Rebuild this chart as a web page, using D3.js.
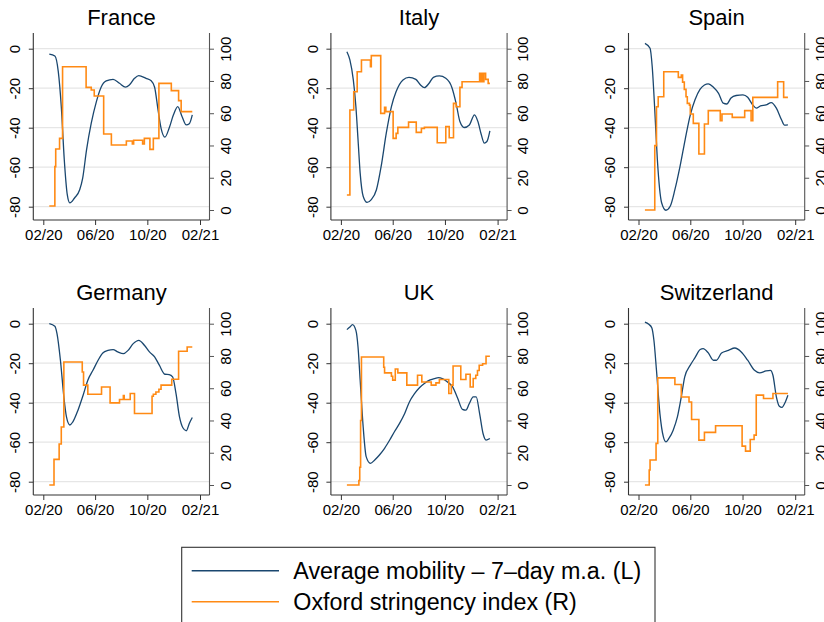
<!DOCTYPE html>
<html>
<head>
<meta charset="utf-8">
<script src="https://cdn.jsdelivr.net/npm/d3@7"></script>
<style>
  body { margin: 0; background: #fff; }
  text { font-family: "Liberation Sans", Arial, Helvetica, sans-serif; fill: #000; }
</style>
</head>
<body>
<div id="chart"></div>
<script>
// ---- data ----
var countries = ["France", "Italy", "Spain", "Germany", "UK", "Switzerland"];

var xTicks = ["2020-02-01", "2020-06-01", "2020-10-01", "2021-02-01"];
var xTickLabels = ["02/20", "06/20", "10/20", "02/21"];
var leftTicks = [-80, -60, -40, -20, 0];
var rightTicks = [0, 20, 40, 60, 80, 100];
var legendLabels = ["Average mobility \u2013 7\u2013day m.a. (L)", "Oxford stringency index (R)"];

// average mobility, 7-day moving average (left axis)
var franceMob = [["2020-02-15",-2.7],["2020-02-28",-3.7],["2020-03-07",-11.6],["2020-03-14",-29.3],["2020-03-21",-56.2],["2020-03-28",-73.9],["2020-04-03",-78.1],["2020-04-14",-75.6],["2020-04-26",-71.4],["2020-05-03",-65.5],["2020-05-12",-51.2],["2020-05-23",-37.7],["2020-06-04",-26.8],["2020-06-15",-19.5],["2020-06-27",-16.3],["2020-07-13",-15.5],["2020-07-28",-17.5],["2020-08-11",-19.5],["2020-08-20",-18.4],["2020-09-01",-15],["2020-09-11",-13.6],["2020-09-28",-15],["2020-10-10",-16.2],["2020-10-18",-19.5],["2020-10-26",-31],["2020-11-02",-40.2],["2020-11-11",-44.8],["2020-11-21",-40.2],["2020-12-01",-33.5],["2020-12-11",-29.3],["2020-12-21",-34.3],["2020-12-31",-38.6],["2021-01-07",-38],["2021-01-14",-33.5]];
var italyMob = [["2020-02-15",-1.5],["2020-02-22",-5.7],["2020-03-01",-15.8],["2020-03-07",-29.3],["2020-03-12",-46],["2020-03-17",-63],["2020-03-24",-74.7],["2020-04-02",-77.8],["2020-04-12",-76.4],["2020-04-24",-71.4],["2020-05-05",-59.6],["2020-05-17",-42.8],["2020-05-29",-29.3],["2020-06-09",-21.7],["2020-06-25",-15.8],["2020-07-09",-14.5],["2020-07-25",-15.5],["2020-08-05",-18.4],["2020-08-14",-19.7],["2020-08-25",-17.5],["2020-09-04",-14.5],["2020-09-18",-13.8],["2020-10-03",-15],["2020-10-17",-19.5],["2020-10-27",-27.6],["2020-11-05",-36.9],["2020-11-15",-39.9],["2020-11-27",-38.6],["2020-12-09",-33.5],["2020-12-17",-36.9],["2020-12-25",-43.6],["2021-01-01",-47.8],["2021-01-07",-47],["2021-01-14",-41.6]];
var spainMob = [["2020-02-16",2.7],["2020-02-28",0.2],["2020-03-04",-9],["2020-03-10",-31],["2020-03-16",-56],["2020-03-26",-78],["2020-04-05",-81.8],["2020-04-15",-79.8],["2020-04-26",-71.4],["2020-05-08",-59.6],["2020-05-20",-46],["2020-06-01",-33.5],["2020-06-12",-25.9],["2020-06-24",-20.5],["2020-07-04",-18.4],["2020-07-13",-17.8],["2020-07-25",-19.5],["2020-08-06",-22.6],["2020-08-17",-27.6],["2020-08-25",-28],["2020-09-04",-25],["2020-09-16",-23.7],["2020-10-02",-23.4],["2020-10-13",-24.6],["2020-10-25",-28.5],["2020-11-02",-30.1],["2020-11-12",-29],["2020-11-25",-28.5],["2020-12-07",-27.3],["2020-12-19",-30.1],["2020-12-31",-36],["2021-01-07",-38.7],["2021-01-15",-38.6]];
var germanyMob = [["2020-02-15",0],["2020-02-28",-1.3],["2020-03-04",-5],["2020-03-12",-18.5],["2020-03-20",-37],["2020-03-26",-47.1],["2020-04-03",-51.3],["2020-04-10",-49.7],["2020-04-22",-43.8],["2020-05-04",-36.2],["2020-05-15",-28.6],["2020-05-27",-23.6],["2020-06-08",-18.5],["2020-06-19",-14.8],["2020-07-01",-13.5],["2020-07-13",-13.1],["2020-07-24",-14.3],["2020-08-06",-15.2],["2020-08-17",-13.5],["2020-08-29",-10.1],["2020-09-11",-8.4],["2020-09-24",-10.9],["2020-10-06",-14.3],["2020-10-18",-16.8],["2020-10-29",-21],["2020-11-11",-25.6],["2020-11-21",-25.8],["2020-11-29",-26.9],["2020-12-07",-35.4],["2020-12-15",-47.1],["2020-12-23",-52.7],["2020-12-31",-54.2],["2021-01-07",-50.5],["2021-01-14",-47.5]];
var ukMob = [["2020-02-15",-3],["2020-02-22",-1.7],["2020-02-28",-0.5],["2020-03-07",-3.4],["2020-03-12",-11.8],["2020-03-17",-28.6],["2020-03-24",-52.2],["2020-03-31",-67.3],["2020-04-10",-70.7],["2020-04-20",-69],["2020-05-01",-66.5],["2020-05-13",-63.1],["2020-05-25",-58.9],["2020-06-05",-54.7],["2020-06-17",-50.5],["2020-06-29",-45.5],["2020-07-10",-39.6],["2020-07-22",-35.4],["2020-08-03",-32.3],["2020-08-14",-30.3],["2020-08-26",-28.6],["2020-09-06",-27.8],["2020-09-16",-27.3],["2020-09-25",-27.8],["2020-10-07",-29.5],["2020-10-19",-32],["2020-10-31",-37.9],["2020-11-11",-43.4],["2020-11-19",-43.8],["2020-11-27",-40.4],["2020-12-06",-37],["2020-12-13",-37],["2020-12-21",-45.5],["2020-12-29",-55.6],["2021-01-05",-58.9],["2021-01-14",-58.1]];
var swissMob = [["2020-02-16",0.8],["2020-02-25",-0.3],["2020-03-03",-2],["2020-03-08",-8.4],["2020-03-14",-23.6],["2020-03-22",-45.5],["2020-03-30",-57.2],["2020-04-05",-59.8],["2020-04-12",-58.1],["2020-04-22",-53.9],["2020-05-02",-47.1],["2020-05-11",-37],["2020-05-19",-26.9],["2020-06-01",-21],["2020-06-12",-17.2],["2020-06-24",-13.1],["2020-07-01",-12.6],["2020-07-13",-14.8],["2020-07-25",-18.5],["2020-08-01",-18.5],["2020-08-13",-14.8],["2020-08-29",-13.5],["2020-09-13",-12.3],["2020-09-28",-14.3],["2020-10-13",-18.5],["2020-10-29",-23.6],["2020-11-10",-24.9],["2020-11-25",-23.9],["2020-12-05",-23.6],["2020-12-11",-26.1],["2020-12-19",-37],["2020-12-26",-41.8],["2021-01-01",-42.4],["2021-01-09",-39.6],["2021-01-15",-36.2]];

// Oxford stringency index (right axis), value holds from each date on
var franceStr = [["2020-02-15",2.5],["2020-02-28",26.9],["2020-03-01",37.8],["2020-03-10",44.4],["2020-03-17",88.8],["2020-05-11",76],["2020-05-23",74.4],["2020-05-30",70.7],["2020-06-21",47.1],["2020-07-09",40.3],["2020-08-13",42.8],["2020-08-27",40.9],["2020-08-30",43.2],["2020-09-20",40.9],["2020-09-24",44.4],["2020-10-07",37.6],["2020-10-15",44.4],["2020-10-28",78.5],["2020-11-26",74],["2020-12-13",67.8],["2020-12-19",61],["2021-01-14",61]];
var italyStr = [["2020-02-15",9.3],["2020-02-22",62],["2020-03-02",73.3],["2020-03-10",85.7],["2020-03-20",93],["2020-04-10",88.8],["2020-04-12",95.7],["2020-05-04",59.9],["2020-05-13",63.6],["2020-05-16",61],["2020-06-02",44.4],["2020-06-09",47.5],["2020-06-13",51.2],["2020-07-08",54.5],["2020-07-26",48.1],["2020-08-07",50.6],["2020-08-14",51.2],["2020-09-13",41.7],["2020-10-03",51.7],["2020-10-11",44.8],["2020-10-21",66.1],["2020-10-27",64],["2020-11-05",76],["2020-11-10",79.5],["2020-12-21",84.7],["2020-12-24",79.5],["2020-12-25",84.7],["2020-12-28",79.5],["2020-12-31",84.7],["2021-01-04",81],["2021-01-10",78.5],["2021-01-14",78.5]];
var spainStr = [["2020-02-16",0],["2020-03-10",39.9],["2020-03-14",64],["2020-03-18",70.2],["2020-03-31",85.7],["2020-05-04",82.2],["2020-05-11",83.7],["2020-05-14",79.3],["2020-05-18",74.8],["2020-05-22",70.2],["2020-05-25",66.1],["2020-05-30",65],["2020-06-01",59.5],["2020-06-08",53.7],["2020-06-21",34.7],["2020-07-04",53.3],["2020-07-13",61.6],["2020-08-10",55.4],["2020-08-14",59.5],["2020-09-07",57.4],["2020-10-06",61.6],["2020-10-21",55.4],["2020-10-25",69.8],["2020-12-22",79.5],["2021-01-05",69.8],["2021-01-15",69.8]];
var germanyStr = [["2020-02-15",0],["2020-02-26",15.9],["2020-03-09",25.4],["2020-03-14",36],["2020-03-20",76.3],["2020-05-02",70.1],["2020-05-05",61.9],["2020-05-15",56.3],["2020-06-16",60.8],["2020-07-06",50.9],["2020-07-28",53],["2020-08-06",55.5],["2020-08-08",53],["2020-08-22",56.7],["2020-09-01",44.3],["2020-10-12",55],["2020-10-15",56.3],["2020-10-21",57.7],["2020-10-28",59.4],["2020-11-02",61.9],["2020-11-27",65.6],["2020-12-13",82.9],["2021-01-02",85.6],["2021-01-14",85.6]];
var ukStr = [["2020-02-15",0],["2020-03-14",2.8],["2020-03-16",11],["2020-03-18",40],["2020-03-20",79.4],["2020-05-11",73],["2020-05-13",69.5],["2020-05-29",67.4],["2020-06-01",65],["2020-06-07",71.9],["2020-06-13",69.5],["2020-07-04",61.9],["2020-07-29",68],["2020-08-08",63.9],["2020-08-30",61.9],["2020-09-10",63.3],["2020-09-18",65.4],["2020-10-10",56.7],["2020-10-16",61.9],["2020-10-20",73.8],["2020-11-07",65.4],["2020-11-19",68.7],["2020-11-29",60.8],["2020-12-06",66],["2020-12-12",68],["2020-12-16",71],["2020-12-20",74.2],["2020-12-28",75.2],["2021-01-05",79.8],["2021-01-14",79.8]];
var swissStr = [["2020-02-16",0],["2020-02-26",9.3],["2020-02-28",15.5],["2020-03-13",25.8],["2020-03-17",66.4],["2020-04-26",62.3],["2020-05-11",54.6],["2020-05-29",51.5],["2020-06-04",40.6],["2020-06-21",27.8],["2020-07-04",32.6],["2020-07-30",36.7],["2020-09-30",24.1],["2020-10-08",21],["2020-10-19",28.2],["2020-10-28",30.9],["2020-11-02",55.7],["2020-11-19",53.6],["2020-12-11",56.7],["2021-01-15",56.7]];

var mobSeries = [franceMob, italyMob, spainMob, germanyMob, ukMob, swissMob];
var strSeries = [franceStr, italyStr, spainStr, germanyStr, ukStr, swissStr];

// ---- layout ----
var width = 824, height = 622;
var colStep = 297.6, rowStep = 275;
var plot = {left: 33.3, right: 209.5, top: 33, bottom: 220};
var blue = "#1a476f", orange = "#ff8a14";

var parse = d3.timeParse("%Y-%m-%d");

var svg = d3.select("#chart")
    .append("svg")
    .attr("width", width)
    .attr("height", height);

svg.append("rect").attr("width", width).attr("height", height).attr("fill", "#fff");

countries.forEach(function(name, i) {
  var ox = (i % 3) * colStep, oy = Math.floor(i / 3) * rowStep;
  var g = svg.append("g").attr("transform", "translate(" + ox + "," + oy + ")");

  var x = d3.scaleTime()
      .domain([parse(xTicks[0]), parse(xTicks[3])])
      .range([43.3, 200]);
  var yL = d3.scaleLinear().domain([-80, 0]).range([206.7, 48.7]);
  var yR = d3.scaleLinear().domain([0, 100]).range([210, 48.7]);

  // gridlines
  g.selectAll(".grid")
    .data(leftTicks)
    .enter().append("line")
    .attr("x1", plot.left).attr("x2", plot.right)
    .attr("y1", function(d) { return yL(d); })
    .attr("y2", function(d) { return yL(d); })
    .attr("stroke", "#e6e6e6").attr("stroke-width", 1.2);

  // left axis
  var axL = g.append("g")
      .attr("transform", "translate(" + plot.left + ",0)")
      .call(d3.axisLeft(yL).tickValues(leftTicks).tickSize(4.5).tickFormat(function(d) { return String(d); }));
  axL.select(".domain").remove();
  axL.selectAll("line").attr("stroke", "#333");
  axL.selectAll("text")
      .attr("transform", "rotate(-90)")
      .attr("x", 0).attr("y", -13.3).attr("dy", null)
      .attr("text-anchor", "middle")
      .style("font-size", "15px");

  // right axis
  var axR = g.append("g")
      .attr("transform", "translate(" + plot.right + ",0)")
      .call(d3.axisRight(yR).tickValues(rightTicks).tickSize(4.5));
  axR.select(".domain").remove();
  axR.selectAll("line").attr("stroke", "#555");
  axR.selectAll("text")
      .attr("transform", "rotate(-90)")
      .attr("x", 0).attr("y", 21.2).attr("dy", null)
      .attr("text-anchor", "middle")
      .style("font-size", "15px");

  // bottom axis
  var axB = g.append("g")
      .attr("transform", "translate(0," + plot.bottom + ")")
      .call(d3.axisBottom(x).tickValues(xTicks.map(parse)).tickSize(5)
        .tickFormat(function(d, k) { return xTickLabels[k]; }));
  axB.select(".domain").remove();
  axB.selectAll("line").attr("stroke", "#333");
  axB.selectAll("text").attr("y", 20).attr("dy", null).style("font-size", "15px");

  // axis lines
  g.append("line").attr("x1", plot.left).attr("x2", plot.left)
      .attr("y1", plot.top).attr("y2", plot.bottom).attr("stroke", "#333").attr("stroke-width", 1.1);
  g.append("line").attr("x1", plot.right).attr("x2", plot.right)
      .attr("y1", plot.top).attr("y2", plot.bottom).attr("stroke", "#555").attr("stroke-width", 1.1);
  g.append("line").attr("x1", plot.left).attr("x2", plot.right)
      .attr("y1", plot.bottom).attr("y2", plot.bottom).attr("stroke", "#333").attr("stroke-width", 1.1);

  // mobility
  g.append("path")
      .datum(mobSeries[i])
      .attr("fill", "none")
      .attr("stroke", blue)
      .attr("stroke-width", 1.3)
      .attr("d", d3.line()
        .x(function(d) { return x(parse(d[0])); })
        .y(function(d) { return yL(d[1]); })
        .curve(d3.curveMonotoneX));

  // stringency
  g.append("path")
      .datum(strSeries[i])
      .attr("fill", "none")
      .attr("stroke", orange)
      .attr("stroke-width", 1.6)
      .attr("d", d3.line()
        .x(function(d) { return x(parse(d[0])); })
        .y(function(d) { return yR(d[1]); })
        .curve(d3.curveStepAfter));

  // title
  g.append("text")
      .attr("x", (plot.left + plot.right) / 2)
      .attr("y", plot.top - 8)
      .attr("text-anchor", "middle")
      .style("font-size", "22px")
      .text(name);
});

// legend
var leg = svg.append("g");
leg.append("rect")
    .attr("x", 181.7).attr("y", 547.3)
    .attr("width", 473.3).attr("height", 90)
    .attr("fill", "#fff").attr("stroke", "#333").attr("stroke-width", 1.1);
[blue, orange].forEach(function(c, k) {
  var yy = 570.7 + k * 31;
  leg.append("line").attr("x1", 191.7).attr("x2", 279).attr("y1", yy).attr("y2", yy)
      .attr("stroke", c).attr("stroke-width", 1.6);
  leg.append("text").attr("x", 293.3).attr("y", yy + 8)
      .style("font-size", "23.3px")
      .text(legendLabels[k]);
});
</script>
</body>
</html>
